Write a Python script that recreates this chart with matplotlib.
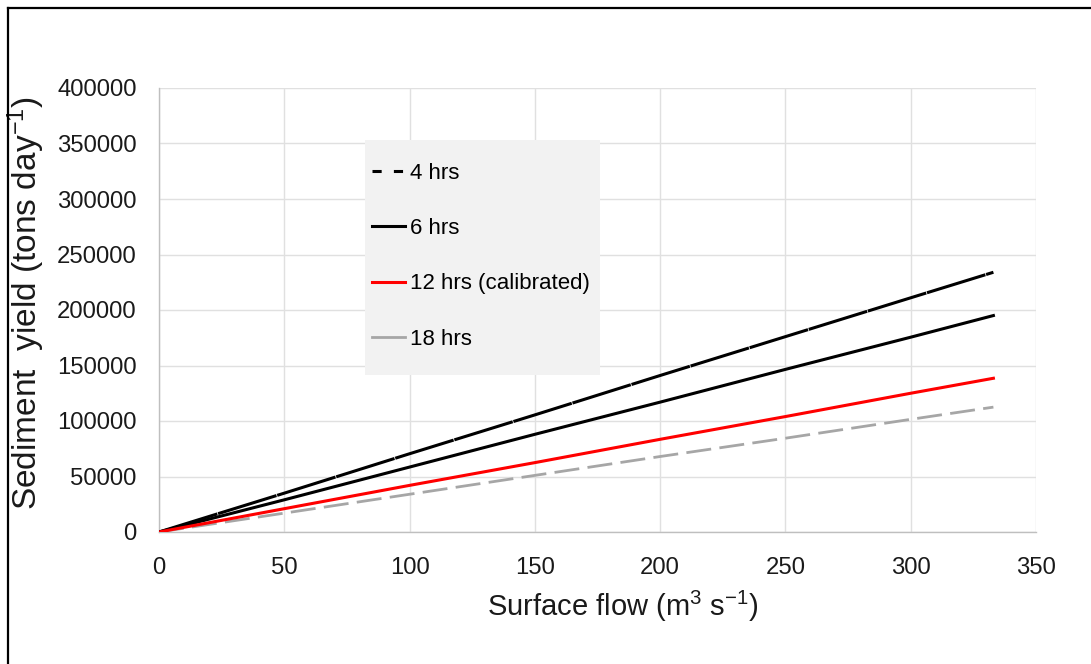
import matplotlib
matplotlib.use("Agg")
import matplotlib.pyplot as plt
from matplotlib.lines import Line2D
from matplotlib.patches import Rectangle

# datos
caudal = [0, 50, 100, 150, 200, 250, 300, 333]
sed_4h = [0, 35000, 70500, 105500, 141000, 176000, 211000, 234000]
sed_6h = [0, 29000, 58500, 88000, 117000, 146500, 175500, 195000]
sed_12h = [0, 21000, 42000, 62500, 83500, 104000, 125000, 138500]
sed_18h = [0, 17000, 34000, 51000, 68000, 84500, 101500, 112500]
etiquetas = ["4 hrs", "6 hrs", "12 hrs (calibrated)", "18 hrs"]

plt.rcParams['font.family'] = ['Liberation Sans', 'DejaVu Sans']
plt.rcParams['mathtext.default'] = 'regular'

W, H = 1091, 664
fig = plt.figure(figsize=(W / 100, H / 100), dpi=100)
ax = fig.add_axes([159 / W, 1 - 532 / H, 877 / W, 444 / H])

# borde exterior (solo izquierda y arriba visibles)
fig.add_artist(Line2D([8 / W, 8 / W], [0, 1 - 8 / H], transform=fig.transFigure,
                      color='black', lw=1.6))
fig.add_artist(Line2D([8 / W, 1], [1 - 8 / H, 1 - 8 / H], transform=fig.transFigure,
                      color='black', lw=1.6))

l4, = ax.plot(caudal, sed_4h, color='black', lw=2.2, zorder=5)
l4.set_dashes((20, 0.25))
ax.plot(caudal, sed_6h, color='black', lw=2.2, zorder=5)
ax.plot(caudal, sed_12h, color='#ff0000', lw=2.2, zorder=5)
l18, = ax.plot(caudal, sed_18h, color='#a6a6a6', lw=2.0, zorder=4)
l18.set_dashes((9, 3))

ax.set_xlim(0, 350)
ax.set_ylim(0, 400000)
ax.set_xticks(range(0, 351, 50))
ax.set_yticks(range(0, 400001, 50000))
ax.grid(True, color='#e0e0e0', lw=1.0)
ax.set_axisbelow(True)
for s in ['top', 'right']:
    ax.spines[s].set_visible(False)
for s in ['left', 'bottom']:
    ax.spines[s].set_color('#bfbfbf')
    ax.spines[s].set_linewidth(1.0)
ax.tick_params(length=0, labelsize=17.2, labelcolor='#1a1a1a')
ax.tick_params(axis='y', pad=16)
ax.tick_params(axis='x', pad=18)

ax.set_xlabel("Surface flow (m$^{3}$ s$^{-1}$)", fontsize=21, color='#1a1a1a')
ax.set_ylabel("Sediment  yield (tons day$^{-1}$)", fontsize=24, color='#1a1a1a')
ax.xaxis.set_label_coords(0.529, -0.128)
ax.yaxis.set_label_coords(-0.128, 0.515)

# fondo gris de la leyenda
ax.add_patch(Rectangle((0.235, 0.354), 0.268, 0.529, transform=ax.transAxes,
                       facecolor='#f2f2f2', edgecolor='none', zorder=2))

handles = [
    Line2D([], [], color='black', lw=2.2, linestyle=(0, (3, 4))),
    Line2D([], [], color='black', lw=2.2),
    Line2D([], [], color='#ff0000', lw=2.2),
    Line2D([], [], color='#a6a6a6', lw=2.0),
]
leg = ax.legend(handles, etiquetas, loc='upper left', bbox_to_anchor=(0.243, 0.832),
                frameon=False, fontsize=16, labelspacing=1.55, handlelength=1.5,
                handletextpad=0.2, borderpad=0, borderaxespad=0)
leg.set_zorder(6)

fig.savefig("out.png", dpi=100)
